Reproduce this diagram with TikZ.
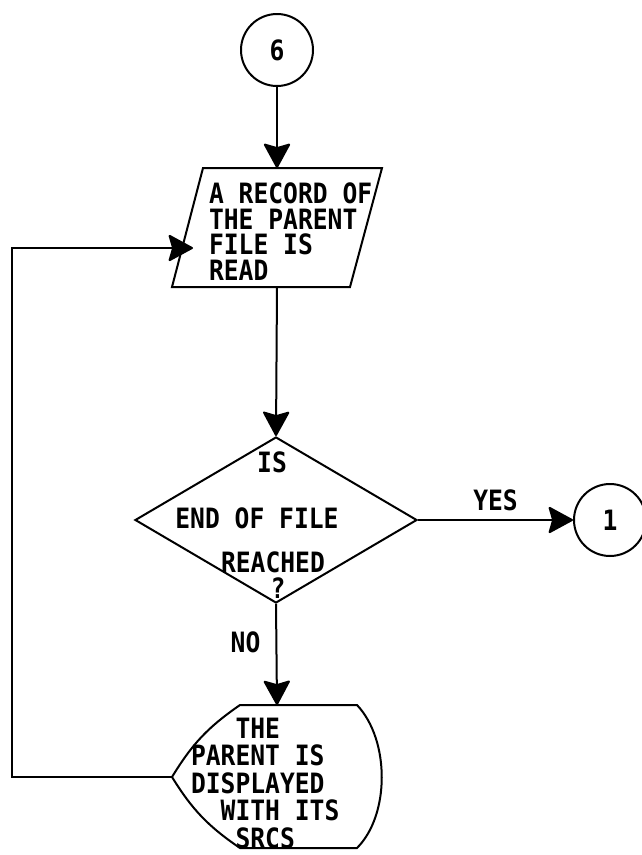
\documentclass[tikz,border=0pt]{standalone}
\usepackage{fontspec}
\newfontfamily\flowfont[FakeStretch=0.88]{DejaVu Sans Mono}
\usetikzlibrary{arrows.meta,shapes.geometric}

\begin{document}
\begin{tikzpicture}[
    x=1pt, y=1pt,
    line width=2pt,
    >={Stealth[length=26pt, width=28pt, inset=4pt, round]},
    txt/.style={inner sep=0pt, font=\flowfont\bfseries\fontsize{28}{25.5}\selectfont},
    conn/.style={circle, draw, minimum size=72pt, txt},
    decide/.style={diamond, draw, minimum width=282pt, minimum height=166pt, inner sep=0pt}
]
    \useasboundingbox (0,0) rectangle (642,-855);

    % 连接符 (圆圈)
    \node[conn] (C6) at (277,-50) {6};
    \node[conn] (C1) at (610,-520) {1};

    % 输入框 (平行四边形)
    \coordinate (RtopL) at (203,-168);
    \coordinate (RtopR) at (382,-168);
    \coordinate (RbotR) at (350,-287);
    \coordinate (RbotL) at (172,-287);
    \coordinate (Rtop) at (277,-168);
    \coordinate (Rbot) at (277,-287);
    \coordinate (Rin) at (193,-248);
    \draw (RtopL) -- (RtopR) -- (RbotR) -- (RbotL) -- cycle;
    \node[txt, anchor=north west, align=left] (R) at (208,-182) {A RECORD OF\\THE PARENT\\FILE IS\\READ};

    % 判断框
    \node[decide] (D) at (276,-520) {};
    \node[txt] (D1) at (272,-462) {IS};
    \node[txt] (D2) at (257,-518) {END OF FILE};
    \node[txt] (D3) at (273,-562) {REACHED};
    \node[txt] (D4) at (278,-588) {?};

    % 显示框
    \coordinate (Stl) at (240,-705);
    \coordinate (Str) at (357,-705);
    \coordinate (Sbr) at (357,-848);
    \coordinate (Sbl) at (240,-848);
    \coordinate (Sl) at (172,-777);
    \coordinate (Stop) at (277,-705);
    \draw (Sl) to[bend left=12] (Stl) -- (Str)
        .. controls (390,-740) and (390,-815) .. (Sbr) -- (Sbl) to[bend left=12] (Sl);
    \node[txt, anchor=north west, align=left] (S) at (190,-717)
        {\phantom{PAR}THE\\[2pt]PARENT IS\\[2pt]DISPLAYED\\[2pt]\phantom{PA}WITH ITS\\[2pt]\phantom{PAR}SRCS};

    % --- 连线 ---
    \draw[->] (C6) -- (Rtop);
    \draw[->] (Rbot) -- (D.north);
    \draw[->] (D.east) -- node[txt, above=8pt] {YES} (C1);
    \draw[->] (D.south) -- node[txt, left=15pt, pos=0.38] {NO} (Stop);

    % 回路
    \coordinate (Lcorner) at (12,-777);
    \draw[->] (Sl) -- (Lcorner) |- (Rin);
\end{tikzpicture}
\end{document}
